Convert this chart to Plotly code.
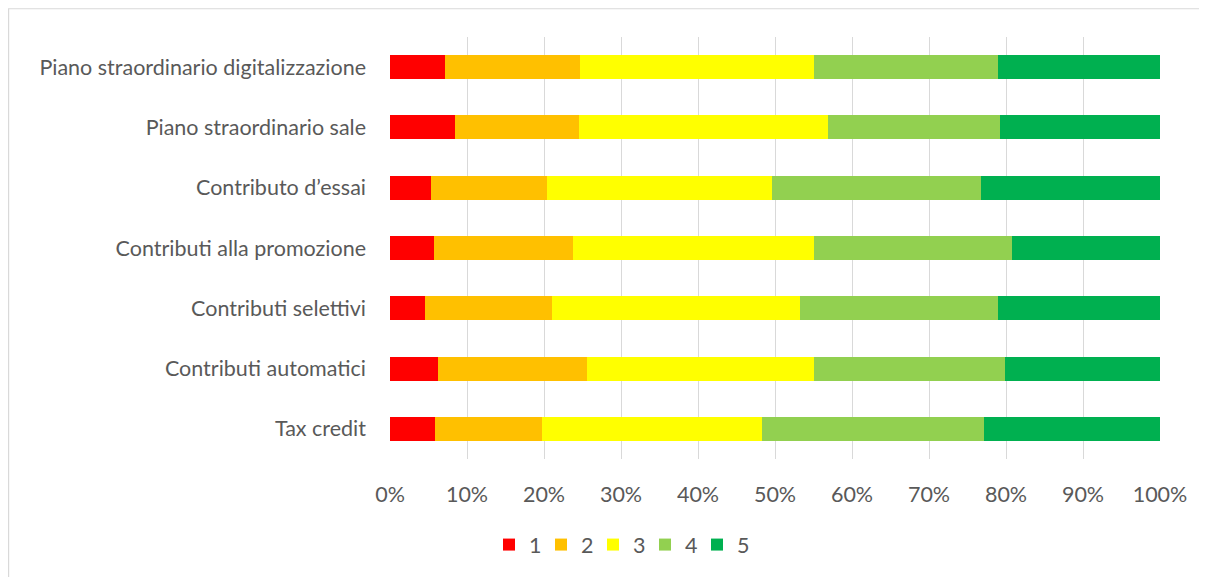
import plotly.graph_objects as go

categories = [
    "Tax credit",
    "Contributi automatici",
    "Contributi selettivi",
    "Contributi alla promozione",
    "Contributo d\u2019essai",
    "Piano straordinario sale",
    "Piano straordinario digitalizzazione",
]
series_names = ["1", "2", "3", "4", "5"]
s1 = [5.8, 6.2, 4.5, 5.7, 5.3, 8.5, 7.1]
s2 = [13.9, 19.4, 16.5, 18.1, 15.1, 16.1, 17.6]
s3 = [28.6, 29.4, 32.3, 31.2, 29.2, 32.3, 30.4]
s4 = [28.9, 24.9, 25.7, 25.8, 27.1, 22.3, 23.9]
s5 = [22.8, 20.1, 21.0, 19.2, 23.3, 20.8, 21.0]
colors = ["#FF0000", "#FFC000", "#FFFF00", "#92D050", "#00B050"]
tick_vals = [0, 10, 20, 30, 40, 50, 60, 70, 80, 90, 100]
tick_text = [f"{v}%" for v in tick_vals]

series = [s1, s2, s3, s4, s5]
FONT = "Lato"
TXT = "#595959"
FS = 21.5

fig = go.Figure()
for name, vals, c in zip(series_names, series, colors):
    fig.add_trace(go.Bar(
        y=categories, x=vals, name=name, orientation="h",
        marker=dict(color=c, line=dict(width=0)),
    ))

W, H = 1199, 569
L, R, T, B = 382, 47, 29, 116
pw, ph = W - L - R, H - T - B

def px_x(x):
    return (x - L) / pw

def px_y(y):
    return (H - B - y) / ph

fig.add_shape(type="rect", xref="paper", yref="paper",
              x0=px_x(0.6), x1=px_x(W + 50), y0=px_y(H + 50), y1=px_y(0.6),
              line=dict(color="#D9D9D9", width=1.2), fillcolor="rgba(0,0,0,0)",
              layer="below")

fig.update_layout(
    width=W, height=H,
    barmode="stack", bargap=0.6,
    margin=dict(l=L, r=R, t=T, b=B),
    plot_bgcolor="white", paper_bgcolor="white",
    font=dict(family=FONT, size=FS, color=TXT),
    showlegend=True,
    legend=dict(orientation="h", x=px_x(481), xanchor="left",
                y=px_y(539), yanchor="middle",
                font=dict(family=FONT, size=FS, color=TXT),
                entrywidth=7, entrywidthmode="pixels",
                traceorder="normal", itemclick=False),
    xaxis=dict(range=[0, 100], tickvals=tick_vals, ticktext=tick_text,
               showgrid=True, gridcolor="#D9D9D9", gridwidth=1.3,
               zeroline=False, showline=False, ticks="",
               ticklabelstandoff=20, fixedrange=True),
    yaxis=dict(showgrid=False, zeroline=False, showline=False, ticks="",
               ticklabelstandoff=23, fixedrange=True,
               categoryorder="array", categoryarray=categories),
)

fig.write_html("out.html")
